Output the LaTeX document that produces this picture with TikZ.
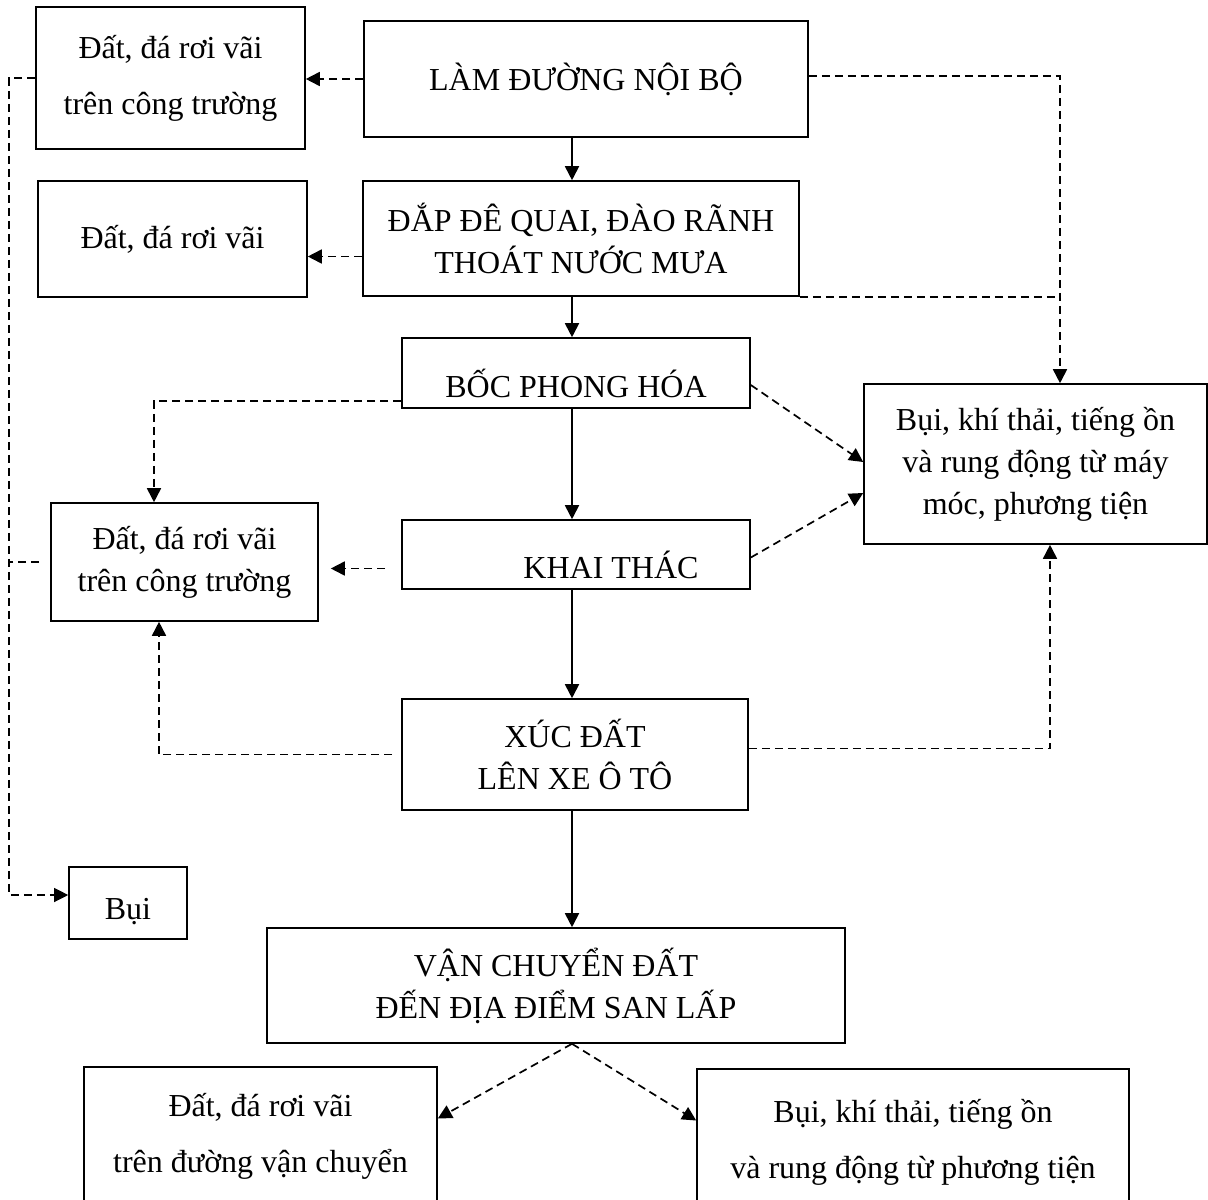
\documentclass[tikz,border=0pt]{standalone}
\usepackage{fontspec}
\setmainfont{Liberation Serif}
\usetikzlibrary{arrows.meta}
\tikzset{
    plain-box/.style = {draw, line width=0.8pt, rectangle, inner sep=0pt, align=center},
    loose-box/.style = {plain-box, font=\fontsize{16}{28}\selectfont},
    flow-arrow/.style = {line width=0.9pt, -{Triangle[length=7pt, width=7pt]}},
    waste-line/.style = {line width=0.85pt, dash pattern=on 4pt off 2.5pt},
    waste-arrow/.style = {waste-line, -{Triangle[length=7pt, width=7pt]}},
    rail-line/.style = {waste-line, line width=0.55pt},
}
\begin{document}
\begin{tikzpicture}[x=0.5pt, y=-0.5pt, font=\fontsize{16}{21}\selectfont]
\useasboundingbox (0,0) rectangle (1208,1199);
\clip (0,0) rectangle (1208,1199);
\coordinate (axis) at (572,0);
\coordinate (rail) at (9,0);

\node[loose-box, minimum width=134.5pt, minimum height=71pt] (spill-top) at (170.5,78) {Đất, đá rơi vãi\\trên công trường};
\node[plain-box, minimum width=222pt, minimum height=58pt] (road) at (586,79) {LÀM ĐƯỜNG NỘI BỘ};
\node[plain-box, minimum width=134.5pt, minimum height=58pt] (spill-dike) at (172.5,239) {Đất, đá rơi vãi};
\node[plain-box, minimum width=218pt, minimum height=57.5pt] (dike) at (581,238.5) {ĐẮP ĐÊ QUAI, ĐÀO RÃNH\\THOÁT NƯỚC MƯA};
\node[plain-box, minimum width=174pt, minimum height=35pt, label={[yshift=-5pt]center:BỐC PHONG HÓA}] (strip) at (576,373) {};
\node[plain-box, minimum width=174pt, minimum height=34.5pt, label={[xshift=17.5pt, yshift=-5pt]center:KHAI THÁC}] (mine) at (576,554.5) {};
\node[plain-box, minimum width=133.5pt, minimum height=59pt] (spill-site) at (184.5,562) {Đất, đá rơi vãi\\trên công trường};
\node[plain-box, minimum width=171.5pt, minimum height=80pt] (emission) at (1035.5,464) {Bụi, khí thải, tiếng ồn\\và rung động từ máy\\móc, phương tiện};
\node[plain-box, minimum width=173pt, minimum height=55.5pt] (load) at (575,754.5) {XÚC ĐẤT\\LÊN XE Ô TÔ};
\node[plain-box, minimum width=59pt, minimum height=36pt, label={[yshift=-4.5pt]center:Bụi}] (dust) at (128,903) {};
\node[plain-box, minimum width=289pt, minimum height=57.5pt] (haul) at (556,985.5) {VẬN CHUYỂN ĐẤT\\ĐẾN ĐỊA ĐIỂM SAN LẤP};
\node[loose-box, minimum width=176.5pt, minimum height=69.5pt] (spill-road) at (260.5,1136.5) {Đất, đá rơi vãi\\trên đường vận chuyển};
\node[loose-box, minimum width=216pt, minimum height=73.5pt] (emission-road) at (913,1142.5) {Bụi, khí thải, tiếng ồn\\và rung động từ phương tiện};

\coordinate (emit-in) at ([xshift=12.25pt]emission.north);

\draw[flow-arrow] (road.south -| axis) -- (dike.north -| axis);
\draw[flow-arrow] (dike.south -| axis) -- (strip.north -| axis);
\draw[flow-arrow] (strip.south -| axis) -- (mine.north -| axis);
\draw[flow-arrow] (mine.south -| axis) -- (load.north -| axis);
\draw[flow-arrow] (load.south -| axis) -- (haul.north -| axis);

\draw[waste-arrow] (road.west) -- (road.west -| spill-top.east);
\draw[waste-arrow] ([yshift=-9pt]dike.west) -- ([yshift=-9pt]dike.west -| spill-dike.east);
\draw[waste-arrow] ([yshift=1.5pt]road.east) -| (emit-in);
\draw[waste-line] (dike.south east) -- (dike.south east -| emit-in);
\draw[waste-arrow] ([yshift=-14pt]strip.west) -| ([xshift=-15.25pt]spill-site.north);
\draw[waste-arrow] ([yshift=-6pt]strip.east) -- ([yshift=1pt]emission.west);
\draw[waste-arrow] ([yshift=-1.5pt]mine.east) -- ([yshift=-14.5pt]emission.west);
\draw[waste-arrow, shorten <=8pt, shorten >=6pt] ([yshift=-7pt]mine.west) -- ([yshift=-7pt]mine.west -| spill-site.east);
\draw[waste-arrow, shorten <=4.5pt] (load.west) -| ([xshift=-12.75pt]spill-site.south);
\draw[waste-arrow] ([yshift=3pt]load.east) -| ([xshift=7.25pt]emission.south);
\draw[waste-arrow, line width=0.55pt] (spill-top.west) -- (spill-top.west -| rail) |- ([yshift=4pt]dust.west);
\draw[rail-line, shorten <=5.5pt] (spill-site.west) -- (spill-site.west -| rail);
\draw[waste-arrow] (haul.south -| axis) -- ([yshift=9pt]spill-road.east);
\draw[waste-arrow] (haul.south -| axis) -- ([yshift=11pt]emission-road.west);
\end{tikzpicture}
\end{document}
